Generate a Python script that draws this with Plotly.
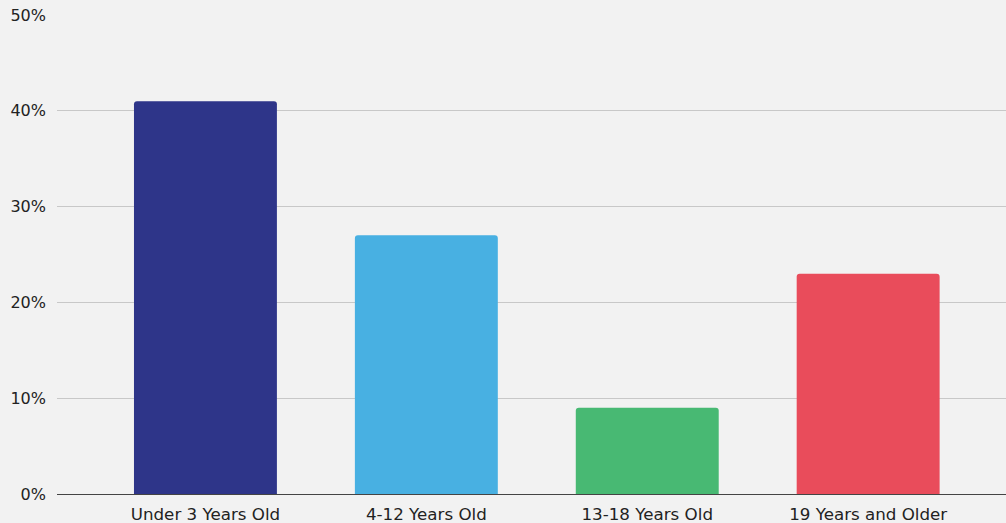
import plotly.graph_objects as go

categories = ["Under 3 Years Old", "4-12 Years Old", "13-18 Years Old", "19 Years and Older"]
values = [41, 27, 9, 23]
colors = ["#2e3589", "#48b0e2", "#48b973", "#e94c5b"]
y_ticks = [0, 10, 20, 30, 40, 50]
y_tick_labels = ["0%", "10%", "20%", "30%", "40%", "50%"]

positions = list(range(len(categories)))

fig = go.Figure(go.Bar(
    x=positions, y=values, width=0.647,
    marker=dict(color=colors, line=dict(width=0), cornerradius=3),
    hoverinfo="skip",
))

fig.update_layout(
    width=1006, height=523,
    margin=dict(l=57, r=0, t=15, b=29),
    paper_bgcolor="#f2f2f2", plot_bgcolor="#f2f2f2",
    font=dict(family="DejaVu Sans, Verdana, sans-serif", size=16, color="#222222"),
    showlegend=False,
    xaxis=dict(
        range=[-0.672, 3.624], tickmode="array", tickvals=positions, ticktext=categories,
        tickfont=dict(size=16.7),
        showgrid=False, zeroline=False, showline=False, ticks="", ticklabelstandoff=8,
        fixedrange=True,
    ),
    yaxis=dict(
        range=[0, 50], tickmode="array", tickvals=y_ticks, ticktext=y_tick_labels,
        showgrid=True, gridcolor="#c8c8c8", gridwidth=1,
        zeroline=True, zerolinecolor="#444444", zerolinewidth=1,
        showline=False, ticks="", ticklabelstandoff=10, fixedrange=True,
    ),
)

fig.write_html("out.html")
